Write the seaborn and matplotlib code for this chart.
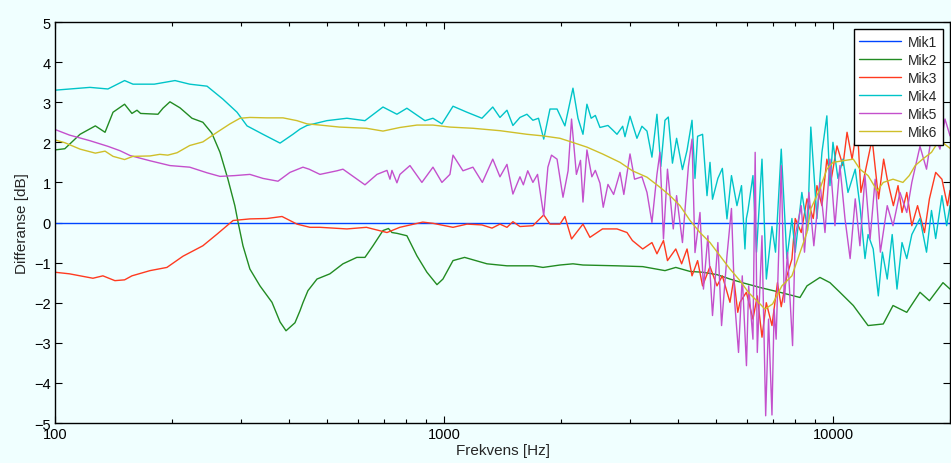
import numpy as np
import pandas as pd
import matplotlib
matplotlib.use("Agg")
import matplotlib.pyplot as plt
import seaborn as sns
from matplotlib.ticker import LogLocator, FixedLocator, NullFormatter

# ---------------- data ----------------
mik1_f = [100, 20000]
mik1_v = [0.0, 0.0]

mik2_f = [100, 106, 116, 127, 134.5, 141, 151, 157.7, 162.5, 166, 184, 189.5, 197.5, 209.6,
          225, 240, 253, 265.6, 278.4, 290, 295.7, 304.3, 317, 336.5, 361.3, 379, 392.6,
          414, 426.5, 434, 447, 471.6, 509, 550, 597, 626.5, 657, 697, 720, 735, 757, 803,
          852, 904, 959.5, 994, 1055, 1130, 1290, 1452, 1693, 1797, 1987, 2146, 2277,
          2785, 3243, 3700, 3944, 4291, 4622, 5034, 5436, 5846, 6492, 7306, 8227, 8575,
          9260, 9824, 10420, 11280, 12310, 13470, 14270, 15480, 16740, 17700, 19180, 20000]
mik2_v = [1.81, 1.84, 2.20, 2.41, 2.25, 2.75, 2.95, 2.72, 2.80, 2.72, 2.70, 2.85, 3.01, 2.86,
          2.60, 2.50, 2.23, 1.75, 1.08, 0.42, 0.00, -0.58, -1.16, -1.58, -1.99, -2.48, -2.70,
          -2.50, -2.20, -2.00, -1.70, -1.41, -1.28, -1.03, -0.87, -0.87, -0.58, -0.20, -0.15,
          -0.25, -0.27, -0.33, -0.83, -1.24, -1.55, -1.41, -0.95, -0.87, -1.03, -1.08, -1.08,
          -1.12, -1.06, -1.03, -1.06, -1.08, -1.10, -1.20, -1.12, -1.22, -1.24, -1.30, -1.41,
          -1.50, -1.62, -1.74, -1.87, -1.58, -1.37, -1.50, -1.74, -2.07, -2.57, -2.53, -2.07,
          -2.24, -1.74, -1.95, -1.50, -1.66]

mik3_f = [100, 109, 125.2, 132.8, 142.6, 151, 157.7, 175.5, 194, 213.4, 240, 261, 287, 317,
          350.8, 383.4, 419, 452.4, 480, 563, 632, 713.7, 770, 882, 937, 1055, 1146, 1252,
          1329, 1393, 1452, 1504, 1568, 1693, 1805, 1873, 1987, 2046, 2128, 2211, 2277, 2373,
          2556, 2785, 2955, 3051, 3243, 3425, 3528, 3667, 3755, 3944, 4083, 4216, 4342, 4488,
          4622, 4830, 5034, 5196, 5436, 5560, 5692, 5767, 5990, 6228, 6390, 6570, 6740, 6970,
          7200, 7363, 7614, 7844, 7998, 8288, 8575, 8900, 9096, 9369, 9646, 9900, 10240,
          10610, 10870, 11200, 11550, 11800, 12200, 12610, 13100, 13500, 13790, 14300, 14700,
          15050, 15480, 15950, 16500, 17190, 17700, 18370, 19060, 19700, 20000]
mik3_v = [-1.24, -1.28, -1.39, -1.33, -1.45, -1.43, -1.33, -1.20, -1.12, -0.84, -0.58, -0.29,
          0.05, 0.09, 0.10, 0.15, -0.04, -0.12, -0.12, -0.16, -0.12, -0.25, -0.12, 0.01, -0.02,
          -0.12, -0.04, -0.06, -0.14, -0.04, -0.12, 0.02, -0.10, -0.08, 0.19, -0.04, -0.04,
          0.15, -0.41, -0.20, -0.04, -0.37, -0.16, -0.16, -0.25, -0.45, -0.66, -0.50, -0.78,
          -0.45, -0.95, -0.66, -1.03, -0.66, -1.33, -0.95, -1.58, -1.10, -1.58, -1.33, -1.99,
          -1.40, -2.24, -1.99, -1.74, -2.41, -1.83, -2.86, -2.00, -2.57, -1.50, -2.10, -1.33,
          -0.91, 0.10, -0.25, 0.59, 0.10, 0.92, 0.42, 1.58, 1.08, 1.91, 1.42, 2.25, 1.58, 2.41,
          0.75, 1.42, 2.08, 0.59, 1.58, 1.08, 0.42, 0.92, 0.25, 0.75, -0.08, 0.42, -0.25, 0.59,
          1.25, 1.08, 0.42, 0.80]

mik4_f = [100, 123, 136.8, 151, 158.7, 180, 203.5, 222, 246, 270, 293.8, 311.7, 342.5, 379,
          409, 426.5, 444.5, 500, 563, 626.5, 697, 757, 803, 893.7, 937, 988, 1055, 1146,
          1252, 1335, 1393, 1452, 1504, 1568, 1634, 1693, 1750, 1805, 1873, 1953, 2046, 2146,
          2211, 2277, 2331, 2390, 2450, 2518, 2640, 2720, 2785, 2880, 2920, 3008, 3134, 3228,
          3326, 3425, 3528, 3610, 3700, 3773, 3867, 3963, 4103, 4216, 4342, 4419, 4488, 4622,
          4745, 4830, 4902, 5060, 5196, 5340, 5484, 5665, 5820, 5940, 5990, 6046, 6228, 6360,
          6570, 6742, 6970, 7118, 7363, 7614, 7844, 7998, 8319, 8607, 8772, 9096, 9369, 9646,
          9824, 10000, 10300, 10610, 10930, 11410, 11730, 12090, 12310, 12690, 13080, 13400,
          13790, 14200, 14610, 15050, 15480, 15950, 16740, 17400, 17920, 18370, 19060, 19600,
          20000]
mik4_v = [3.30, 3.37, 3.33, 3.54, 3.45, 3.45, 3.54, 3.45, 3.40, 3.08, 2.75, 2.41, 2.20, 1.98,
          2.20, 2.33, 2.42, 2.54, 2.60, 2.54, 2.88, 2.70, 2.85, 2.54, 2.60, 2.46, 2.90, 2.75,
          2.60, 2.88, 2.62, 2.80, 2.42, 2.62, 2.70, 2.55, 2.60, 2.08, 2.83, 2.83, 2.41, 3.35,
          2.60, 2.20, 2.95, 2.60, 2.67, 2.37, 2.42, 2.30, 2.20, 2.40, 2.14, 2.65, 2.10, 2.40,
          2.28, 1.63, 2.70, 1.40, 2.55, 2.63, 1.48, 2.10, 1.32, 1.80, 2.55, 1.10, 2.15, 2.20,
          0.67, 1.50, 0.58, 1.10, 1.35, 0.09, 1.17, 0.42, 0.92, -0.66, 0.10, 0.30, 1.17, -0.74,
          1.58, -1.41, -0.10, -0.74, 1.83, -0.90, 0.10, -0.74, 0.75, -0.20, 2.38, 0.10, 1.75,
          2.66, 0.92, 2.00, 1.10, 1.58, 0.75, 1.33, 0.42, -0.90, -0.30, -0.66, -1.83, -0.74,
          -1.41, -0.30, -1.66, -0.50, -0.90, -0.30, 0.10, -0.74, 0.30, -0.40, 0.67, -0.08, 0.42]

mik5_f = [100, 109, 123, 136.8, 147, 156, 175.5, 197.5, 222, 246, 265.6, 290, 317, 342.5,
          374.4, 401.9, 434, 450, 480, 531, 550, 626.5, 672.6, 713.7, 726.4, 735, 757, 770.6,
          817.7, 877.6, 937, 988, 1036, 1055, 1119, 1187, 1255, 1335, 1393, 1452, 1504, 1568,
          1600, 1642, 1693, 1740, 1805, 1850, 1890, 1953, 2023, 2085, 2128, 2190, 2244, 2277,
          2331, 2400, 2450, 2518, 2567, 2640, 2730, 2835, 2900, 3008, 3090, 3228, 3326, 3425,
          3528, 3591, 3667, 3755, 3886, 3963, 4103, 4250, 4342, 4419, 4552, 4646, 4770, 4902,
          5060, 5172, 5340, 5484, 5590, 5718, 5846, 5993, 6072, 6228, 6310, 6390, 6570, 6715,
          6830, 6970, 7060, 7144, 7363, 7500, 7640, 7874, 7998, 8288, 8450, 8672, 8930, 9260,
          9540, 9824, 10120, 10420, 10740, 11070, 11410, 11730, 12090, 12460, 12840, 13240,
          13790, 14270, 14870, 15480, 15950, 16740, 17400, 18020, 18840, 19410, 20000]
mik5_v = [2.32, 2.18, 2.04, 1.90, 1.79, 1.67, 1.54, 1.42, 1.38, 1.24, 1.15, 1.17, 1.20, 1.10,
          1.03, 1.25, 1.38, 1.33, 1.20, 1.29, 1.33, 0.94, 1.20, 1.30, 1.08, 1.30, 0.99, 1.20,
          1.42, 1.00, 1.38, 1.00, 1.20, 1.68, 1.29, 1.38, 1.00, 1.58, 1.14, 1.45, 0.71, 1.14,
          0.94, 1.29, 1.00, 1.20, 0.17, 1.38, 1.68, 1.58, 0.63, 1.29, 2.58, 1.20, 1.55, 0.51,
          1.81, 1.14, 1.30, 0.98, 0.38, 0.95, 0.70, 1.25, 0.70, 1.71, 1.08, 1.14, 0.75, 0.00,
          1.20, 1.75, -0.41, 1.33, -0.16, 0.67, -0.50, 1.40, 2.08, -0.75, 0.25, -1.66, -0.33,
          -2.32, -0.50, -2.57, -0.83, 0.35, -1.99, -3.24, -1.33, -3.57, -1.58, -2.91, 1.75,
          -3.24, -0.33, -4.82, -2.41, -4.80, -2.16, -2.91, 1.42, -1.99, -0.74, -3.07, -0.33,
          0.42, -0.74, 0.75, -0.58, 1.00, -0.25, 1.58, -0.08, 1.42, 0.09, -0.90, 0.59, -0.58,
          1.17, -0.41, 1.08, -0.74, 0.42, -0.08, 0.75, 0.25, 1.00, 1.90, 1.33, 2.33, 1.83, 2.58,
          2.16]

mik6_f = [100, 106, 116, 127, 134.5, 141, 151, 158.7, 175.5, 186, 195, 206, 222, 240, 261,
          281.8, 299, 317, 350, 385.6, 419, 444.5, 480, 538.6, 632, 697, 770.6, 852, 937,
          1036, 1187, 1393, 1634, 1797, 1987, 2108, 2331, 2556, 2835, 3051, 3326, 3591, 3811,
          4044, 4291, 4552, 4830, 5124, 5436, 5767, 6072, 6492, 6688, 6998, 7391, 7844, 8227,
          8575, 8772, 9260, 9646, 10000, 10610, 11280, 11730, 12310, 13000, 13470, 14270,
          15130, 15710, 16270, 17000, 17920, 18840, 19400, 20000]
mik6_v = [2.06, 1.99, 1.83, 1.73, 1.78, 1.65, 1.57, 1.65, 1.66, 1.70, 1.68, 1.74, 1.92, 2.01,
          2.25, 2.46, 2.60, 2.62, 2.61, 2.61, 2.54, 2.46, 2.43, 2.38, 2.35, 2.28, 2.37, 2.43,
          2.43, 2.38, 2.35, 2.29, 2.20, 2.16, 2.10, 2.02, 1.88, 1.71, 1.50, 1.29, 1.13, 0.88,
          0.67, 0.42, 0.05, -0.25, -0.50, -0.83, -1.16, -1.45, -1.75, -2.03, -2.16, -2.03,
          -1.58, -1.33, -0.75, -0.25, 0.34, 0.84, 1.33, 1.50, 1.54, 1.58, 1.33, 1.17, 0.79,
          1.00, 1.08, 1.00, 1.17, 1.42, 1.58, 1.75, 2.08, 1.95, 1.85]

labels = ["Mik1", "Mik2", "Mik3", "Mik4", "Mik5", "Mik6"]
colors = ["#0044ff", "#228b22", "#ff3a20", "#00c4c8", "#c450cc", "#cfbf2a"]
x_ticks = [100, 1000, 10000]
x_tick_labels = ["100", "1000", "10000"]
y_ticks = [-5, -4, -3, -2, -1, 0, 1, 2, 3, 4, 5]

# ---------------- build long table ----------------
series = [(mik1_f, mik1_v), (mik2_f, mik2_v), (mik3_f, mik3_v),
          (mik4_f, mik4_v), (mik5_f, mik5_v), (mik6_f, mik6_v)]
frames = []
for lab, (f, v) in zip(labels, series):
    frames.append(pd.DataFrame({"Frekvens": f, "Differanse": v, "Mik": lab}))
df = pd.concat(frames, ignore_index=True)

# ---------------- plotting ----------------
sns.set_theme(style="ticks")
plt.rcParams["font.family"] = ["Liberation Sans", "DejaVu Sans"]
plt.rcParams["axes.unicode_minus"] = True

bg = "#f0ffff"
fig = plt.figure(figsize=(9.51, 4.64), dpi=100, facecolor=bg)
ax = fig.add_axes([0.0578, 0.0862, 0.9412, 0.8642])
ax.set_facecolor(bg)

sns.lineplot(data=df, x="Frekvens", y="Differanse", hue="Mik", hue_order=labels,
             palette=dict(zip(labels, colors)), estimator=None, linewidth=1.0,
             ax=ax, legend=True)

ax.set_xscale("log")
ax.set_xlim(100, 20000)
ax.set_ylim(-5, 5)
ax.set_yticks(y_ticks)
ax.xaxis.set_major_locator(FixedLocator(x_ticks))
ax.set_xticklabels(x_tick_labels)
ax.xaxis.set_minor_locator(LogLocator(base=10, subs=np.arange(2, 10)))
ax.xaxis.set_minor_formatter(NullFormatter())

ax.tick_params(which="both", direction="in", top=True, right=True, colors="black",
               labelsize=10.5, width=0.8, pad=3)
ax.tick_params(which="major", length=5)
ax.tick_params(which="minor", length=3)
for s in ax.spines.values():
    s.set_visible(True)
    s.set_color("black")
    s.set_linewidth(1.0)

ax.set_xlabel("Frekvens [Hz]", fontsize=11, labelpad=1)
ax.set_ylabel("Differanse [dB]", fontsize=11, labelpad=4)

leg = ax.legend(loc="upper right", fontsize=10, frameon=True, fancybox=False,
                edgecolor="black", facecolor="white", framealpha=1.0,
                handlelength=3.0, handletextpad=0.5, labelspacing=0.3,
                borderaxespad=0.5, borderpad=0.4)
leg.get_frame().set_linewidth(1.0)

fig.savefig("out.png", dpi=100, facecolor=bg)
